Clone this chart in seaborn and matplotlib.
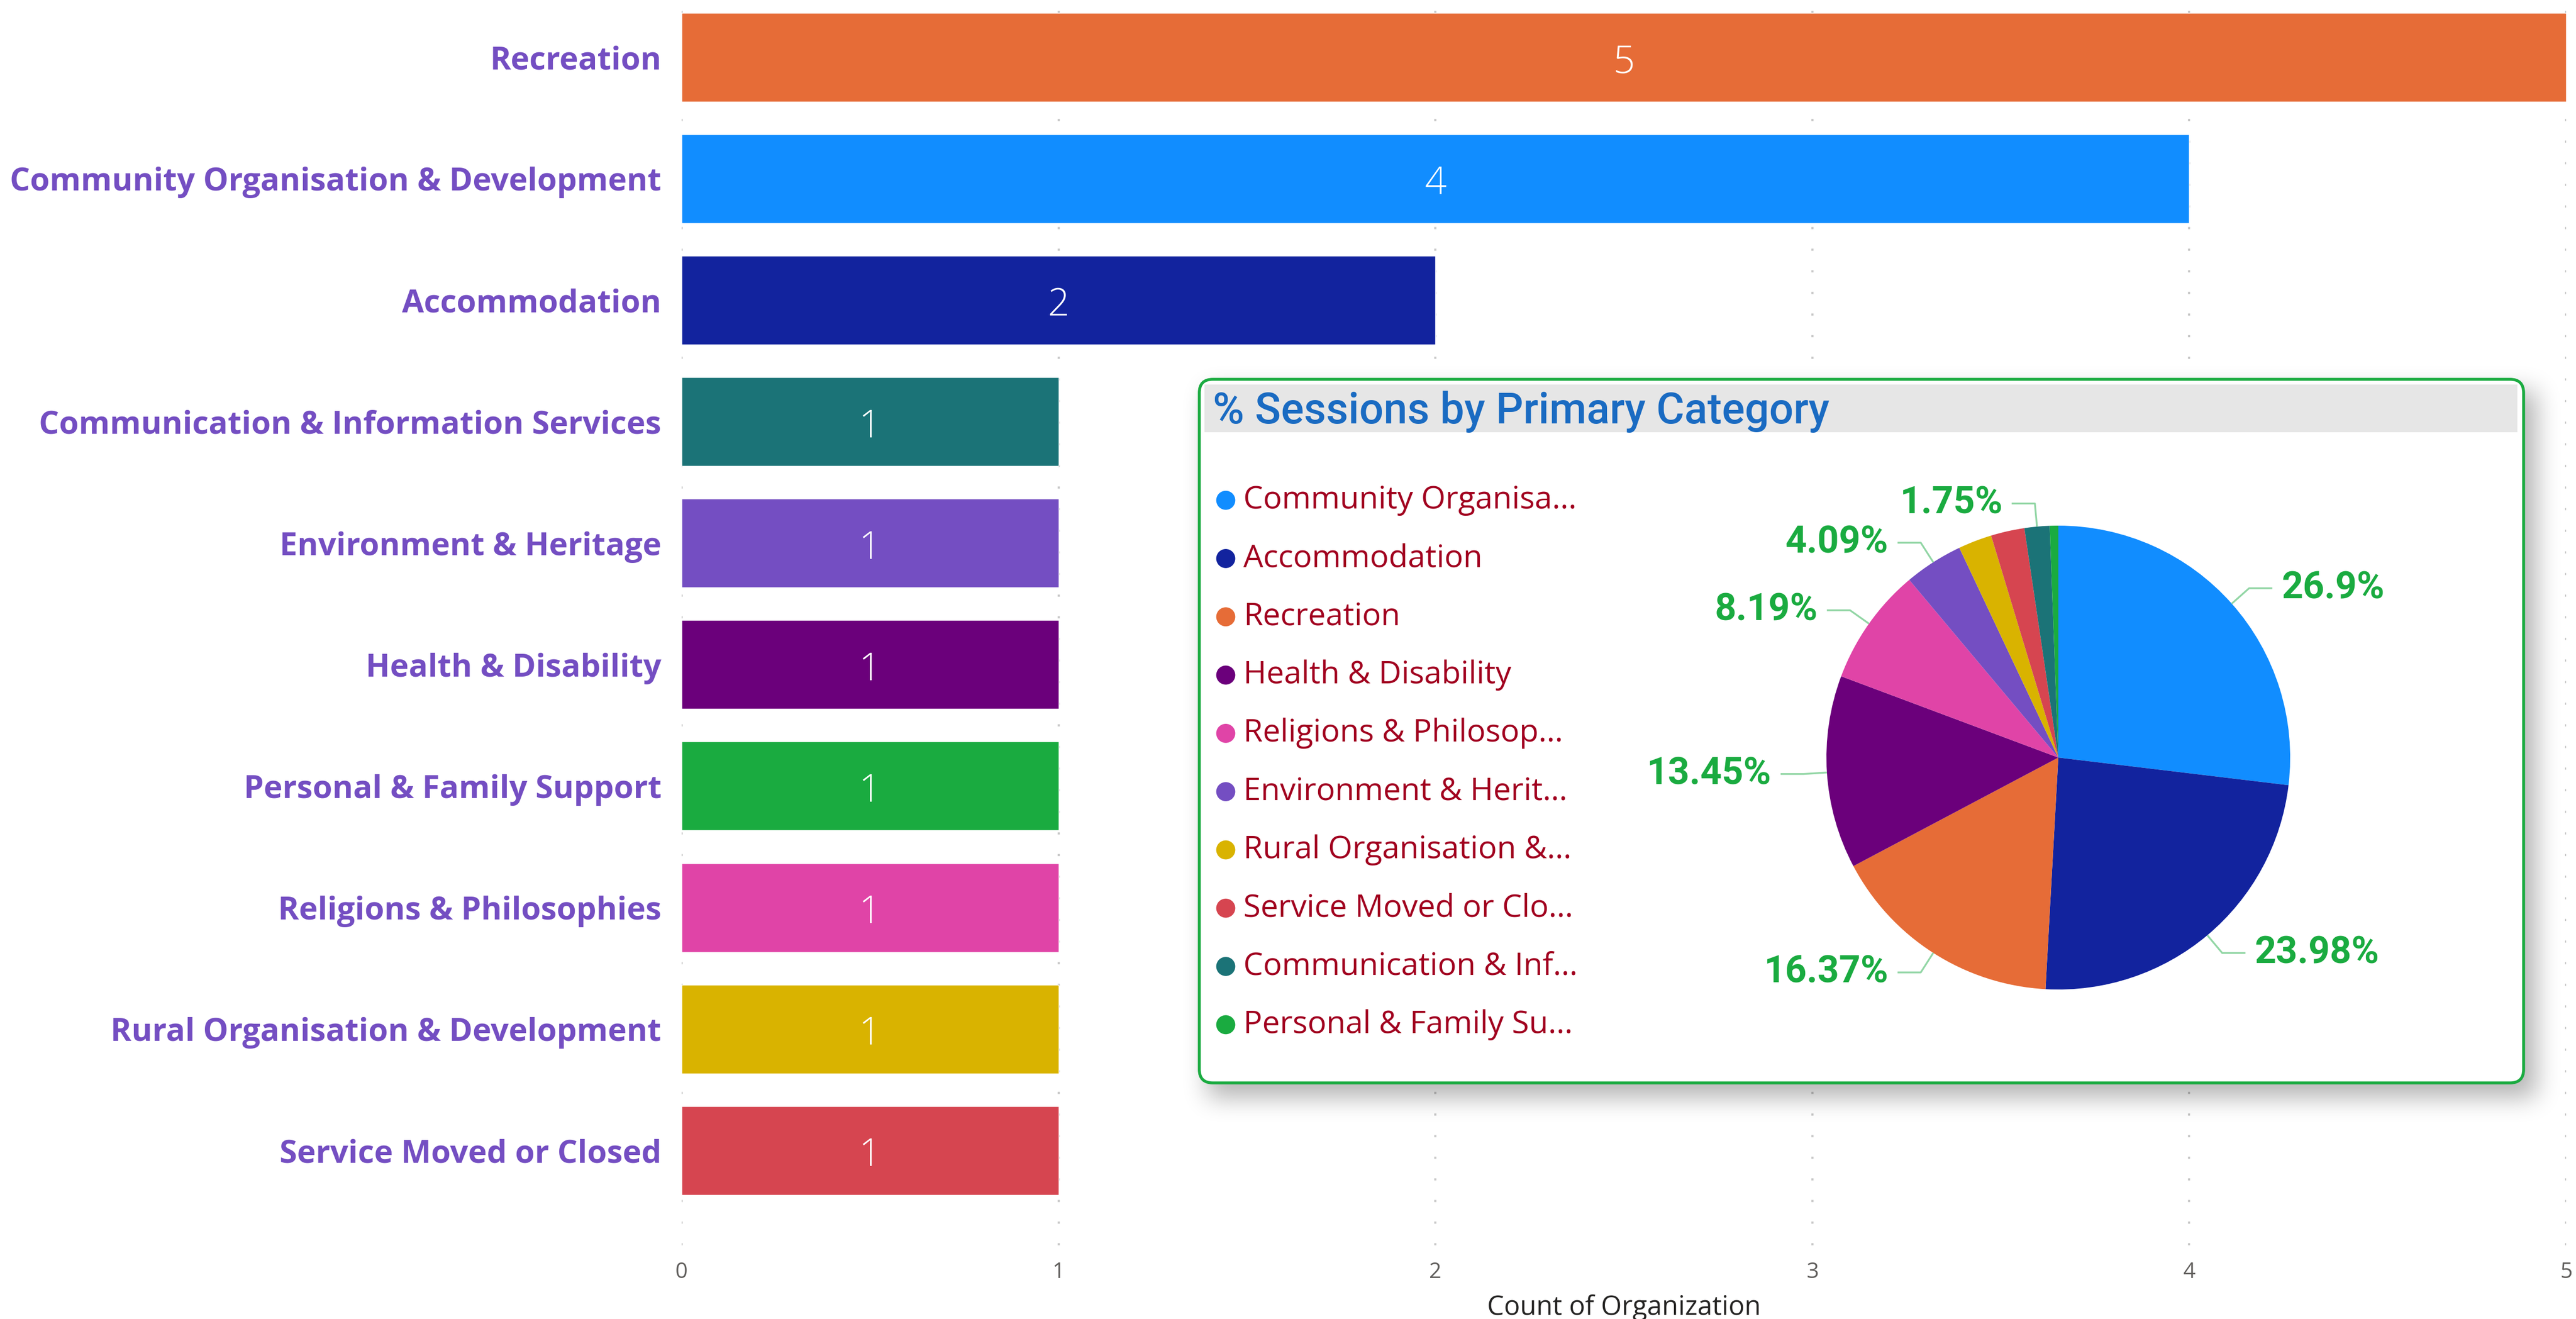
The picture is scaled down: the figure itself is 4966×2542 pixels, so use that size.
#Power BI style dashboard recreated with seaborn / matplotlib
import numpy as np
import pandas as pd
import matplotlib
matplotlib.use('Agg')
import matplotlib.pyplot as plt
import seaborn as sns
from matplotlib.patches import FancyBboxPatch, Rectangle

sns.set_style('white')
plt.rcParams['font.family'] = ['Open Sans', 'DejaVu Sans']

# bar chart data
categories = ['Recreation', 'Community Organisation & Development', 'Accommodation',
              'Communication & Information Services', 'Environment & Heritage',
              'Health & Disability', 'Personal & Family Support', 'Religions & Philosophies',
              'Rural Organisation & Development', 'Service Moved or Closed']
org_counts = [5, 4, 2, 1, 1, 1, 1, 1, 1, 1]
bar_colors = ['#E66C37', '#118DFF', '#12239E', '#1B7377', '#744EC2',
              '#6B007B', '#1AAB40', '#E044A7', '#D9B300', '#D64550']
x_ticks = [0, 1, 2, 3, 4, 5]

# pie chart data (clockwise from 12 o'clock)
pie_categories = ['Community Organisation & Development', 'Accommodation', 'Recreation',
                  'Health & Disability', 'Religions & Philosophies', 'Environment & Heritage',
                  'Rural Organisation & Development', 'Service Moved or Closed',
                  'Communication & Information Services', 'Personal & Family Support']
legend_labels = ['Community Organisa...', 'Accommodation', 'Recreation', 'Health & Disability',
                 'Religions & Philosop...', 'Environment & Herit...', 'Rural Organisation &...',
                 'Service Moved or Clo...', 'Communication & Inf...', 'Personal & Family Su...']
session_pct = [26.9, 23.98, 16.37, 13.45, 8.19, 4.09, 2.34, 2.34, 1.75, 0.59]
pct_label_shown = [True, True, True, True, True, True, False, False, True, False]

color_of = dict(zip(categories, bar_colors))
pie_colors = [color_of[c] for c in pie_categories]

W, H = 4966, 2542
fig = plt.figure(figsize=(W / 100, H / 100), dpi=100, facecolor='white')

def px_box(x0, y0, x1, y1):
    # pixel box (top-left origin) -> figure fraction
    return [x0 / W, 1 - y1 / H, (x1 - x0) / W, (y1 - y0) / H]

# ---------------- bar chart ----------------
ax = fig.add_axes(px_box(1314, 0, 4947, 2400), zorder=0)
df = pd.DataFrame({'category': categories, 'count': org_counts})
sns.barplot(data=df, x='count', y='category', hue='category', palette=bar_colors,
            saturation=1, width=0.73, legend=False, orient='h', ax=ax)
ax.set_xlim(0, 5)
ax.set_ylim(9.78, -0.47)
ax.set_xticks(x_ticks)
for c in ax.containers:
    for t in ax.bar_label(c, label_type='center', color='white', fontsize=53, fontweight='light'):
        t.xyann = (0, -8)
ax.xaxis.grid(True, color='#C8C8C8', linestyle=(0, (1, 9)), linewidth=3)
ax.yaxis.grid(False)
ax.set_axisbelow(True)
sns.despine(ax=ax, left=True, bottom=True)
ax.tick_params(axis='x', length=0, labelsize=30, labelcolor='#605E5C', pad=22)
ax.tick_params(axis='y', length=0, labelsize=44, labelcolor='#744EC2', pad=28)
for t in ax.get_yticklabels():
    t.set_fontweight('bold')
ax.set_ylabel('')
ax.set_xlabel('Count of Organization', fontsize=37, color='#252423', labelpad=16)

# ---------------- card overlay ----------------
ov = fig.add_axes([0, 0, 1, 1], zorder=2)
ov.set_xlim(0, W)
ov.set_ylim(H, 0)
ov.axis('off')
ov.patch.set_alpha(0)

cx0, cy0, cx1, cy1 = 2312, 731, 4865, 2087

# soft drop shadow (blurred offset rectangle)
sx0, sy0, sx1, sy1 = 2200, 650, 5000, 2250
mask = np.zeros((sy1 - sy0, sx1 - sx0))
mask[cy0 + 22 - sy0:cy1 + 28 - sy0, cx0 + 16 - sx0:cx1 + 24 - sx0] = 1.0

def box_blur(a, r, axis):
    pad = [(0, 0), (0, 0)]
    pad[axis] = (r + 1, r)
    c = np.cumsum(np.pad(a, pad), axis=axis)
    if axis == 0:
        return (c[2 * r + 1:] - c[:-2 * r - 1]) / (2 * r + 1)
    return (c[:, 2 * r + 1:] - c[:, :-2 * r - 1]) / (2 * r + 1)

for _ in range(3):
    mask = box_blur(mask, 22, 0)
    mask = box_blur(mask, 22, 1)
shadow = np.zeros(mask.shape + (4,))
shadow[..., 3] = mask * 0.30
ov.imshow(shadow, extent=(sx0, sx1, sy1, sy0), interpolation='bilinear', zorder=1)

ov.add_patch(FancyBboxPatch((cx0, cy0), cx1 - cx0, cy1 - cy0,
                            boxstyle='round,pad=0,rounding_size=26',
                            facecolor='white', edgecolor='#1AAB40', linewidth=4, zorder=2))
ov.add_patch(Rectangle((2322, 741), 4853 - 2322, 833 - 741, facecolor='#E6E6E6',
                       edgecolor='none', zorder=3))
ov.text(2338, 793, '% Sessions by Primary Category', fontsize=59.5, color='#1A6BC2',
        family=['Roboto', 'DejaVu Sans'], fontweight='medium', va='center', ha='left', zorder=4)

# ---------------- legend ----------------
lg = fig.add_axes(px_box(2340, 908, 3140, 2031), zorder=3)
lg.set_xlim(0, 800)
lg.set_ylim(9.5, -0.5)
lg.axis('off')
lg.patch.set_alpha(0)
idx = np.arange(len(legend_labels))
lg.scatter(np.full(len(idx), 23), idx, s=700, c=pie_colors, linewidths=0)
for i, lab in zip(idx, legend_labels):
    lg.text(57, i, lab, fontsize=43.5, color='#A1001F', va='center', ha='left')

# ---------------- pie ----------------
pa = fig.add_axes(px_box(3521, 1013, 4415, 1907), zorder=3)
wedges, _ = pa.pie(session_pct, colors=pie_colors, startangle=90, counterclock=False,
                   radius=1, wedgeprops=dict(linewidth=0))
pa.set_xlim(-1, 1)
pa.set_ylim(-1, 1)
pa.set_aspect('equal')
pa.axis('off')
for w, v, show in zip(wedges, session_pct, pct_label_shown):
    if not show:
        continue
    ang = np.deg2rad((w.theta1 + w.theta2) / 2)
    ex, ey = np.cos(ang), np.sin(ang)
    bx, by = 1.1 * ex, 1.1 * ey
    sgn = 1 if ex >= 0 else -1
    pa.plot([ex, bx, bx + 0.1 * sgn], [ey, by, by], color='#92D6A5', lw=2.5,
            clip_on=False, solid_capstyle='butt')
    pa.text(bx + 0.14 * sgn, by, f'{v:g}%', fontsize=52, fontweight='bold', color='#1AAB40',
            family=['Roboto', 'DejaVu Sans'], va='center',
            ha='left' if sgn > 0 else 'right')

fig.savefig('out.png', dpi=100, facecolor='white')
